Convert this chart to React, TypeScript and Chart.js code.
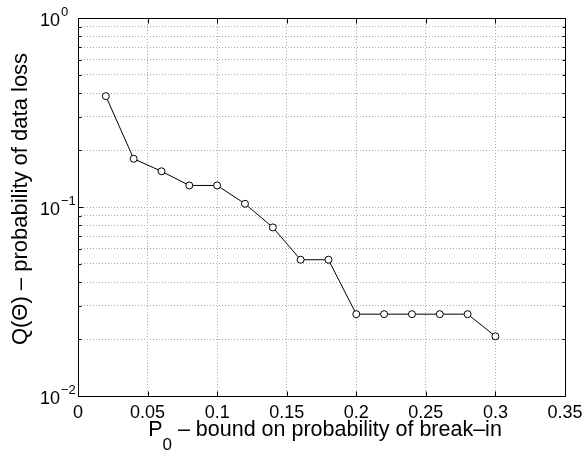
import React, { useEffect, useRef } from "react";
import { Chart, registerables } from "chart.js";

Chart.register(...registerables);

// ---- data ----
const pValues = [0.02, 0.04, 0.06, 0.08, 0.1, 0.12, 0.14, 0.16, 0.18, 0.2, 0.22, 0.24, 0.26, 0.28, 0.3];
const qValues = [0.386, 0.18, 0.1545, 0.13, 0.13, 0.104, 0.078, 0.0526, 0.0526, 0.0271, 0.0271, 0.0271, 0.0271, 0.0271, 0.0207];

const xTicks = [0, 0.05, 0.1, 0.15, 0.2, 0.25, 0.3, 0.35];
const xTickLabels = ["0", "0.05", "0.1", "0.15", "0.2", "0.25", "0.3", "0.35"];
const yMajorTicks = [0.01, 0.1, 1];
const yTickExponents = ["\u22122", "\u22121", "0"];
const yMinorMultipliers = [2, 3, 4, 5, 6, 7, 8, 9];

const xTitleMain = "P";
const xTitleSub = "0";
const xTitleRest = " \u2013 bound on probability of break\u2013in";
const yTitle = "Q(\u0398) \u2013 probability of data loss";

const FONT = '"Liberation Sans", Arial, Helvetica, sans-serif';

const yAllTicks: number[] = [];
for (let d = 0; d < yMajorTicks.length; d++) {
  yAllTicks.push(yMajorTicks[d]);
  if (d < yMajorTicks.length - 1) {
    for (const m of yMinorMultipliers) yAllTicks.push(+(yMajorTicks[d] * m).toPrecision(6));
  }
}

const matlabPlugin = {
  id: "matlabAxes",
  afterDraw(chart: any) {
    const { ctx, chartArea: a, scales } = chart;
    const xs = scales.x;
    const ys = scales.y;
    const L = Math.round(a.left) + 0.5;
    const R = Math.round(a.right) + 0.5;
    const T = Math.round(a.top) + 0.5;
    const B = Math.round(a.bottom) + 0.5;
    ctx.save();
    ctx.strokeStyle = "#000";
    ctx.lineWidth = 1;
    ctx.setLineDash([]);
    // box
    ctx.strokeRect(L, T, R - L, B - T);
    // x ticks (bottom & top, inward)
    ctx.beginPath();
    for (const v of xTicks) {
      const px = Math.round(xs.getPixelForValue(v)) + 0.5;
      ctx.moveTo(px, B);
      ctx.lineTo(px, B - 5);
      ctx.moveTo(px, T);
      ctx.lineTo(px, T + 5);
    }
    // y ticks
    for (const v of yAllTicks) {
      const py = Math.round(ys.getPixelForValue(v)) + 0.5;
      const major = yMajorTicks.includes(v);
      const len = major ? 5 : 3;
      ctx.moveTo(L, py);
      ctx.lineTo(L + len, py);
      ctx.moveTo(R, py);
      ctx.lineTo(R - len, py);
    }
    ctx.stroke();

    ctx.fillStyle = "#000";
    // x tick labels
    ctx.font = `18px ${FONT}`;
    ctx.textAlign = "center";
    ctx.textBaseline = "alphabetic";
    xTicks.forEach((v, i) => {
      ctx.fillText(xTickLabels[i], xs.getPixelForValue(v), a.bottom + 22);
    });
    // y tick labels 10^n
    yMajorTicks.forEach((v, i) => {
      const py = ys.getPixelForValue(v);
      ctx.textAlign = "left";
      ctx.font = `18px ${FONT}`;
      const baseX = 40;
      ctx.fillText("10", baseX, py + 8);
      const w = ctx.measureText("10").width;
      ctx.font = `13px ${FONT}`;
      ctx.fillText(yTickExponents[i], baseX + w + 1, py - 2.5);
    });

    // x title
    const mainFont = `21.5px ${FONT}`;
    const subFont = `17px ${FONT}`;
    ctx.font = mainFont;
    const wMain = ctx.measureText(xTitleMain).width;
    const wRest = ctx.measureText(xTitleRest).width;
    ctx.font = subFont;
    const wSub = ctx.measureText(xTitleSub).width;
    const total = wMain + wSub + wRest;
    const cx = 325;
    const x0 = cx - total / 2;
    const titleBase = 436;
    ctx.textAlign = "left";
    ctx.font = mainFont;
    ctx.fillText(xTitleMain, x0, titleBase);
    ctx.font = subFont;
    ctx.fillText(xTitleSub, x0 + wMain, titleBase + 14);
    ctx.font = mainFont;
    ctx.fillText(xTitleRest, x0 + wMain + wSub, titleBase);

    // y title
    ctx.save();
    ctx.translate(27, (a.top + a.bottom) / 2 - 8);
    ctx.rotate(-Math.PI / 2);
    ctx.textAlign = "center";
    ctx.font = `22px ${FONT}`;
    ctx.fillText(yTitle, 0, 0);
    ctx.restore();

    ctx.restore();
  },
};

export default function App() {
  const canvasRef = useRef<HTMLCanvasElement | null>(null);

  useEffect(() => {
    document.body.style.margin = "0";
    const canvas = canvasRef.current;
    if (!canvas) return;
    const gridColor = "#a8a8a8";
    const chart = new Chart(canvas, {
      type: "line",
      data: {
        datasets: [
          {
            data: pValues.map((p, i) => ({ x: p, y: qValues[i] })),
            borderColor: "#000",
            borderWidth: 1,
            pointRadius: 3.5,
            pointBorderWidth: 1,
            pointBorderColor: "#000",
            pointBackgroundColor: "#fff",
            pointHoverRadius: 3.5,
            tension: 0,
            fill: false,
          },
        ],
      },
      options: {
        responsive: false,
        animation: false,
        devicePixelRatio: 1,
        events: [],
        layout: { padding: { left: 78, top: 18, right: 19, bottom: 57 } },
        plugins: {
          legend: { display: false },
          tooltip: { enabled: false },
          title: { display: false },
        },
        scales: {
          x: {
            type: "linear",
            min: 0,
            max: 0.35,
            afterBuildTicks: (s: any) => {
              s.ticks = xTicks.map((v) => ({ value: v }));
            },
            afterFit: (s: any) => {
              s.height = 0;
            },
            ticks: { display: false },
            grid: { color: gridColor, lineWidth: 1, drawTicks: false },
            border: { display: false, dash: [1, 2] },
          },
          y: {
            type: "logarithmic",
            min: 0.01,
            max: 1,
            afterBuildTicks: (s: any) => {
              s.ticks = yAllTicks.map((v) => ({ value: v }));
            },
            afterFit: (s: any) => {
              s.width = 0;
            },
            ticks: { display: false },
            grid: { color: gridColor, lineWidth: 1, drawTicks: false },
            border: { display: false, dash: [1, 2] },
          },
        },
      } as any,
      plugins: [matlabPlugin],
    });
    return () => chart.destroy();
  }, []);

  return (
    <div style={{ width: 584, height: 453, background: "#fff" }}>
      <canvas ref={canvasRef} width={584} height={453} style={{ width: 584, height: 453, display: "block" }} />
    </div>
  );
}
